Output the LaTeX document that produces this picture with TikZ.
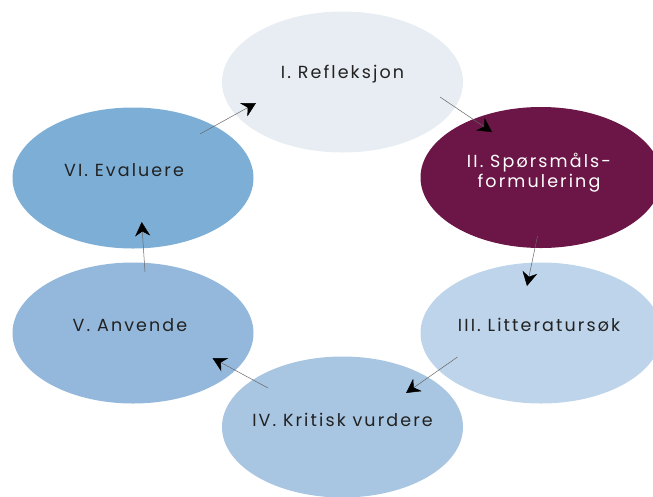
\documentclass[tikz,border=0pt]{standalone}
\usepackage{fontspec}
\setmainfont{Poppins}[LetterSpace=12]
\usetikzlibrary{arrows.meta,calc,shapes.geometric}

\definecolor{refleks}{HTML}{E7EDF2}
\definecolor{sporsm}{HTML}{6B1646}
\definecolor{littsok}{HTML}{BED4EA}
\definecolor{kritisk}{HTML}{A8C5E1}
\definecolor{anvend}{HTML}{94B8DB}
\definecolor{evaluer}{HTML}{7DAFD6}
\definecolor{txtgray}{HTML}{222222}

\begin{document}
\begin{tikzpicture}[x=1pt,y=-1pt]

	\tikzstyle{phase} = [ellipse, draw=none, minimum width=241pt, minimum height=141pt, inner sep=0pt];
	\tikzstyle{phasetext} = [font=\fontsize{17.5}{20}\selectfont, text=txtgray, align=center];
	\tikzstyle{flow} = [draw=black!60, line width=0.5pt, -{Stealth[length=14pt, width=15pt, inset=4.5pt, color=black]}];

	\useasboundingbox (0,0) rectangle (653,496);

	% the six phases
	\node[phase, fill=refleks] (refl) at (342.5,82) {};
	\node[phase, fill=sporsm] (sporsmal) at (541,177.5) {};
	\node[phase, fill=littsok] (litt) at (541,333) {};
	\node[phase, fill=kritisk] (vurdere) at (342.5,427) {};
	\node[phase, fill=anvend] (anvende) at (133,333) {};
	\node[phase, fill=evaluer] (evaluere) at (133,178) {};

	\node[phasetext] (refltxt) at ([yshift=8pt]refl.center) {I. Refleksjon};
	\node[phasetext, text=white] (sporsmaltxt) at ([yshift=4.5pt, xshift=-2pt]sporsmal.center) {II. Spørsmåls-\\formulering};
	\node[phasetext] (litttxt) at ([yshift=8pt, xshift=-2pt]litt.center) {III. Litteratursøk};
	\node[phasetext] (vurderetxt) at ([yshift=7pt]vurdere.center) {IV. Kritisk vurdere};
	\node[phasetext] (anvendetxt) at ([yshift=8pt, xshift=-3pt]anvende.center) {V. Anvende};
	\node[phasetext] (evalueretxt) at ([yshift=8pt, xshift=-9pt]evaluere.center) {VI. Evaluere};

	% the cycle
	\draw[flow] ($(evaluere)+(67,-44)$) -- ($(refl)+(-86.5,21)$);
	\draw[flow] ($(refl)+(97.5,15)$) -- ($(sporsmal)+(-49,-45.5)$);
	\draw[flow] ($(sporsmal)+(-3.5,58.5)$) -- ($(litt)+(-14,-47)$);
	\draw[flow] ($(litt)+(-83.5,24)$) -- ($(vurdere)+(63.5,-34)$);
	\draw[flow] ($(vurdere)+(-74.5,-39)$) -- ($(anvende)+(79.5,25)$);
	\draw[flow] ($(anvende)+(12,-61)$) -- ($(evaluere)+(8.7,44)$);

\end{tikzpicture}
\end{document}
